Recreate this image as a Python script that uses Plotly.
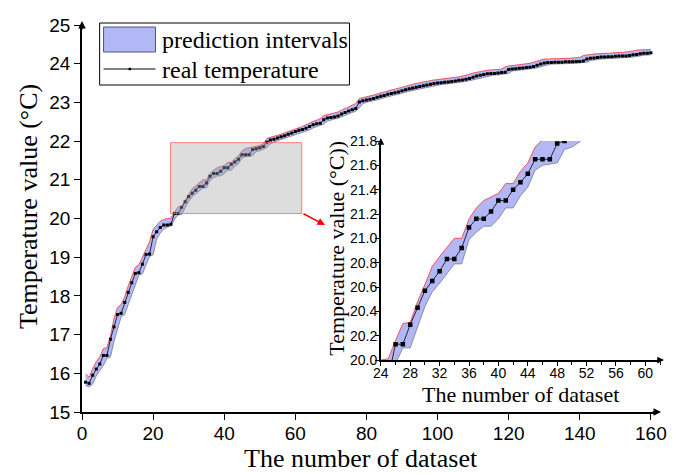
import plotly.graph_objects as go

# ---------------- data ----------------
dataset_idx = list(range(1, 161))

real_temp = [
    15.77, 15.74, 15.95, 16.11, 16.24, 16.46, 16.46, 16.88, 17.20, 17.52,
    17.55, 17.83, 18.09, 18.34, 18.58, 18.60, 18.82, 19.07, 19.08, 19.53,
    19.66, 19.77, 19.83, 19.83, 19.85, 20.13, 20.13, 20.29, 20.43, 20.57,
    20.65, 20.73, 20.83, 20.83, 20.92, 21.09, 21.16, 21.16, 21.22, 21.31,
    21.31, 21.40, 21.46, 21.53, 21.65, 21.65, 21.65, 21.78, 21.80, 21.83,
    21.86, 21.97, 22.03, 22.05, 22.08, 22.11, 22.14, 22.18, 22.21, 22.25,
    22.28, 22.30, 22.33, 22.38, 22.42, 22.45, 22.46, 22.55, 22.60, 22.61,
    22.62, 22.65, 22.70, 22.74, 22.78, 22.81, 22.84, 23.01, 23.04, 23.06,
    23.08, 23.10, 23.13, 23.16, 23.18, 23.21, 23.23, 23.25, 23.27, 23.30,
    23.33, 23.35, 23.37, 23.39, 23.41, 23.43, 23.45, 23.47, 23.49, 23.50,
    23.51, 23.52, 23.53, 23.54, 23.55, 23.57, 23.58, 23.60, 23.62, 23.65,
    23.68, 23.70, 23.72, 23.74, 23.75, 23.75, 23.76, 23.77, 23.78, 23.85,
    23.86, 23.87, 23.88, 23.89, 23.90, 23.91, 23.93, 23.96, 23.99, 24.02,
    24.03, 24.03, 24.04, 24.04, 24.04, 24.05, 24.05, 24.05, 24.06, 24.06,
    24.07, 24.12, 24.14, 24.15, 24.16, 24.17, 24.17, 24.18, 24.18, 24.19,
    24.20, 24.20, 24.20, 24.21, 24.23, 24.24, 24.26, 24.27, 24.27, 24.28,
]

upper_bound = [
    15.98, 15.90, 16.12, 16.30, 16.42, 16.64, 16.66, 16.96, 17.42, 17.70,
    17.78, 17.98, 18.26, 18.52, 18.74, 18.80, 19.00, 19.20, 19.40, 19.72,
    19.84, 19.93, 19.98, 20.00, 20.01, 20.16, 20.30, 20.31, 20.48, 20.62,
    20.77, 20.85, 20.93, 21.00, 21.00, 21.16, 21.25, 21.31, 21.34, 21.37,
    21.45, 21.45, 21.55, 21.62, 21.75, 21.81, 21.83, 21.85, 21.87, 21.89,
    21.93, 22.06, 22.10, 22.12, 22.15, 22.18, 22.21, 22.25, 22.28, 22.32,
    22.35, 22.38, 22.42, 22.47, 22.51, 22.54, 22.58, 22.66, 22.68, 22.69,
    22.71, 22.75, 22.80, 22.84, 22.88, 22.91, 22.97, 23.10, 23.12, 23.14,
    23.16, 23.19, 23.22, 23.25, 23.28, 23.30, 23.32, 23.34, 23.37, 23.40,
    23.43, 23.45, 23.47, 23.49, 23.51, 23.53, 23.55, 23.57, 23.58, 23.59,
    23.60, 23.61, 23.62, 23.63, 23.65, 23.66, 23.68, 23.70, 23.73, 23.76,
    23.78, 23.80, 23.82, 23.83, 23.84, 23.84, 23.85, 23.86, 23.92, 23.94,
    23.95, 23.96, 23.97, 23.98, 23.99, 24.01, 24.04, 24.07, 24.10, 24.12,
    24.12, 24.13, 24.13, 24.13, 24.14, 24.14, 24.14, 24.15, 24.15, 24.16,
    24.21, 24.23, 24.24, 24.25, 24.26, 24.26, 24.27, 24.27, 24.28, 24.29,
    24.29, 24.29, 24.30, 24.32, 24.33, 24.35, 24.36, 24.36, 24.37, 24.37,
]

lower_bound = [
    15.68, 15.65, 15.72, 15.93, 16.07, 16.20, 16.38, 16.42, 16.82, 17.14,
    17.46, 17.52, 17.78, 18.04, 18.28, 18.54, 18.57, 18.78, 19.02, 19.06,
    19.47, 19.62, 19.72, 19.78, 19.80, 19.97, 20.10, 20.10, 20.27, 20.44,
    20.56, 20.63, 20.71, 20.79, 20.79, 20.99, 21.05, 21.10, 21.10, 21.16,
    21.25, 21.25, 21.35, 21.42, 21.56, 21.60, 21.61, 21.62, 21.73, 21.75,
    21.79, 21.84, 21.93, 21.98, 22.01, 22.04, 22.07, 22.10, 22.14, 22.17,
    22.21, 22.24, 22.26, 22.29, 22.34, 22.37, 22.40, 22.44, 22.51, 22.55,
    22.57, 22.59, 22.62, 22.66, 22.70, 22.74, 22.77, 22.86, 22.97, 23.00,
    23.02, 23.04, 23.06, 23.09, 23.12, 23.14, 23.17, 23.19, 23.21, 23.23,
    23.26, 23.29, 23.31, 23.33, 23.35, 23.37, 23.39, 23.41, 23.43, 23.45,
    23.46, 23.47, 23.48, 23.49, 23.50, 23.51, 23.53, 23.54, 23.56, 23.58,
    23.61, 23.64, 23.66, 23.68, 23.70, 23.71, 23.71, 23.72, 23.73, 23.75,
    23.81, 23.82, 23.83, 23.84, 23.85, 23.86, 23.87, 23.89, 23.92, 23.95,
    23.98, 23.99, 23.99, 24.00, 24.00, 24.00, 24.01, 24.01, 24.01, 24.02,
    24.02, 24.04, 24.08, 24.10, 24.11, 24.12, 24.13, 24.13, 24.14, 24.14,
    24.15, 24.16, 24.16, 24.16, 24.17, 24.19, 24.20, 24.22, 24.23, 24.23,
]

main_xticks = [0, 20, 40, 60, 80, 100, 120, 140, 160]
main_yticks = [15, 16, 17, 18, 19, 20, 21, 22, 23, 24, 25]
inset_xticks = [24, 28, 32, 36, 40, 44, 48, 52, 56, 60]
inset_yticks = [20.0, 20.2, 20.4, 20.6, 20.8, 21.0, 21.2, 21.4, 21.6, 21.8]
zoom_box_x = [24.9, 61.8]
zoom_box_y = [20.13, 21.96]

legend_labels = ["prediction intervals", "real temperature"]
main_xtitle = "The number of dataset"
main_ytitle = "Temperature value (°C)"
inset_xtitle = "The number of dataset"
inset_ytitle = "Temperature value (°C))"

# ---------------- layout helpers (pixel -> paper) ----------------
W, H = 681, 474
PL, PR, PT, PB = 82, 675, 25, 412


def px(x):
    return (x - PL) / (PR - PL)


def py(y):
    return (PB - y) / (PB - PT)


BAND = "#b2b8f5"
SERIF = "Liberation Serif"
SANS = "Liberation Sans"

fig = go.Figure()

for xa, ya, msize in (("x", "y", 3), ("x2", "y2", 4.5)):
    fig.add_trace(go.Scatter(x=dataset_idx, y=lower_bound, mode="lines",
                             line=dict(color="#7a7a8a", width=0.8),
                             xaxis=xa, yaxis=ya, showlegend=False,
                             hoverinfo="skip"))
    fig.add_trace(go.Scatter(x=dataset_idx, y=upper_bound, mode="lines",
                             fill="tonexty", fillcolor=BAND,
                             line=dict(color="#ff3030", width=0.8),
                             xaxis=xa, yaxis=ya, showlegend=False,
                             hoverinfo="skip"))
    fig.add_trace(go.Scatter(x=dataset_idx, y=real_temp, mode="lines+markers",
                             line=dict(color="black", width=0.8),
                             marker=dict(symbol="square", size=msize,
                                         color="black"),
                             xaxis=xa, yaxis=ya, showlegend=False))

axis_common = dict(showline=True, linecolor="black", linewidth=1.5,
                   showgrid=False, zeroline=False, ticks="outside",
                   tickcolor="black", tickwidth=1.2)

fig.update_layout(
    width=W, height=H,
    margin=dict(l=PL, r=W - PR, t=PT, b=H - PB),
    paper_bgcolor="white", plot_bgcolor="rgba(0,0,0,0)",
    showlegend=False,
    xaxis=dict(domain=[0, px(667)], range=[0, 161.2], tickvals=main_xticks,
               ticklen=6, ticklabelstandoff=-3,
               tickfont=dict(family=SANS, size=19, color="black"),
               **axis_common),
    yaxis=dict(domain=[0, 1], range=[15, 25], tickvals=main_yticks,
               ticklen=6, tickfont=dict(family=SANS, size=19, color="black"),
               **axis_common),
    xaxis2=dict(domain=[px(387), px(672)], range=[24, 62], anchor="y2",
                tickvals=inset_xticks, ticklen=4, ticklabelstandoff=-5,
                minor=dict(dtick=2, tick0=24, ticklen=3, ticks="outside",
                           tickcolor="black"),
                tickfont=dict(family=SANS, size=14, color="black"),
                **axis_common),
    yaxis2=dict(domain=[py(360), py(141)], range=[20, 21.8], anchor="x2",
                tickvals=inset_yticks, tickformat=".1f", ticklen=4,
                ticklabelstandoff=-5,
                tickfont=dict(family=SANS, size=14, color="black"),
                **axis_common),
)

shapes = []
# zoom box on main chart
shapes.append(dict(type="rect", xref="x", yref="y",
                   x0=zoom_box_x[0], x1=zoom_box_x[1],
                   y0=zoom_box_y[0], y1=zoom_box_y[1],
                   fillcolor="rgba(165,165,165,0.38)",
                   line=dict(color="rgba(255,90,90,0.75)", width=1),
                   layer="above"))
# legend box
shapes.append(dict(type="rect", xref="paper", yref="paper",
                   x0=px(100), x1=px(355), y0=py(85), y1=py(23),
                   fillcolor="white", line=dict(color="black", width=1)))
shapes.append(dict(type="rect", xref="paper", yref="paper",
                   x0=px(104), x1=px(157), y0=py(52), y1=py(27),
                   fillcolor=BAND, line=dict(color="#55557a", width=1)))
shapes.append(dict(type="line", xref="paper", yref="paper",
                   x0=px(104), x1=px(157), y0=py(69), y1=py(69),
                   line=dict(color="black", width=1)))
shapes.append(dict(type="rect", xref="paper", yref="paper",
                   x0=px(129.5), x1=px(132), y0=py(70.2), y1=py(67.8),
                   fillcolor="black", line=dict(color="black", width=0)))
fig.update_layout(shapes=shapes)

ann = []


def arrow(tip_x, tip_y, ax, ay, color="black", size=1.0, width=1.5):
    ann.append(dict(x=px(tip_x), y=py(tip_y), xref="paper", yref="paper",
                    ax=ax, ay=ay, axref="pixel", ayref="pixel", text="",
                    showarrow=True, arrowhead=2, arrowsize=size,
                    arrowwidth=width, arrowcolor=color, standoff=0))


# axis arrowheads
arrow(673, 412, -10, 0)
arrow(82, 21, 0, 10)
arrow(676, 360, -8, 0, size=0.9)
arrow(387, 138, 0, 8, size=0.9)
# red pointer from zoom box to inset
arrow(330, 225, -23, -12, color="red", size=1.0, width=1.5)


def text(s, x, y, size, angle=0, xanchor="center", family=SERIF):
    ann.append(dict(x=px(x), y=py(y), xref="paper", yref="paper", text=s,
                    showarrow=False, textangle=angle, xanchor=xanchor,
                    yanchor="middle",
                    font=dict(family=family, size=size, color="black")))


text(main_xtitle, 367, 458, 26)
text(main_ytitle, 27, 207, 26, angle=-90)
text(inset_xtitle, 530, 394, 22)
text(inset_ytitle, 341, 248, 22, angle=-90)
text(legend_labels[0], 162, 40, 24, xanchor="left")
text(legend_labels[1], 162, 70, 24, xanchor="left")

fig.update_layout(annotations=ann)

fig.write_html("out.html")
